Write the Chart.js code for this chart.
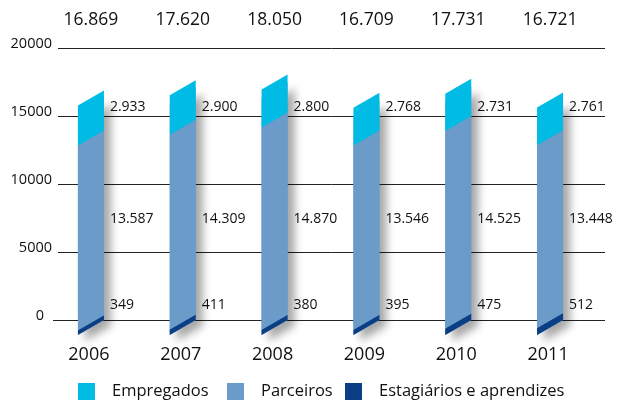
<!DOCTYPE html>
<html>
<head>
<meta charset="utf-8">
<script src="https://cdn.jsdelivr.net/npm/chart.js@4.4.1/dist/chart.umd.min.js"></script>
<style>
  html, body { margin: 0; padding: 0; background: #fff; }
  #wrap { width: 629px; height: 404px; position: relative; }
</style>
</head>
<body>
<div id="wrap"><canvas id="chart"></canvas></div>
<script>
// dados
const years = ['2006', '2007', '2008', '2009', '2010', '2011'];
const empregados = [2933, 2900, 2800, 2768, 2731, 2761];
const parceiros = [13587, 14309, 14870, 13546, 14525, 13448];
const estagiarios = [349, 411, 380, 395, 475, 512];
const totals = [16869, 17620, 18050, 16709, 17731, 16721];
const yTicks = [0, 5000, 10000, 15000, 20000];

const FONT = '"Open Sans", "Noto Sans", sans-serif';
const TEXT = '#111';
const SKEW = 15;

function fmt(n) {
    return String(n).replace(/\B(?=(\d{3})+(?!\d))/g, '.');
}

// desenha as barras inclinadas, grade e rótulos
const slantPlugin = {
    id: 'slant',
    beforeDatasetsDraw(chart) {
        const ctx = chart.ctx;
        const y = chart.scales.y;
        ctx.save();

        // grade + ticks
        ctx.strokeStyle = '#222';
        ctx.lineWidth = 1;
        ctx.fillStyle = TEXT;
        ctx.font = '14.5px ' + FONT;
        ctx.textAlign = 'right';
        ctx.textBaseline = 'middle';
        yTicks.forEach(function(v) {
            const py = Math.round(y.getPixelForValue(v)) + 0.5;
            ctx.beginPath();
            ctx.moveTo(v === 0 ? 53 : 58, py);
            ctx.lineTo(605, py);
            ctx.stroke();
            ctx.fillText(String(v), v === 0 ? 44 : 52, py - 4.5);
        });

        const metas = chart.data.datasets.map((d, i) => chart.getDatasetMeta(i));
        const n = chart.data.labels.length;

        function shape(el, top, base) {
            const l = el.x - el.width / 2, r = el.x + el.width / 2;
            ctx.beginPath();
            ctx.moveTo(r, top);
            ctx.lineTo(r, base);
            ctx.lineTo(l, base + SKEW);
            ctx.lineTo(l, top + SKEW);
            ctx.closePath();
        }

        for (let i = 0; i < n; i++) {
            const bottom = metas[0].data[i];
            const topEl = metas[metas.length - 1].data[i];

            // sombra da barra inteira
            ctx.save();
            ctx.shadowColor = 'rgba(0,0,0,0.35)';
            ctx.shadowBlur = 9;
            ctx.shadowOffsetX = 7;
            ctx.shadowOffsetY = 6;
            ctx.fillStyle = '#6699c9';
            shape(bottom, topEl.y + 8, bottom.base);
            ctx.fill();
            ctx.restore();

            metas.forEach(function(meta, di) {
                const el = meta.data[i];
                ctx.fillStyle = chart.data.datasets[di].backgroundColor;
                shape(el, el.y, el.base);
                ctx.fill();
            });
        }

        // rótulos
        ctx.fillStyle = TEXT;
        ctx.textBaseline = 'middle';
        for (let i = 0; i < n; i++) {
            const el = metas[0].data[i];
            const rx = el.x + el.width / 2 + 6;
            ctx.textAlign = 'left';
            ctx.font = '500 14px ' + FONT;
            ctx.fillText(fmt(empregados[i]), rx, 107);
            ctx.fillText(fmt(parceiros[i]), rx, 219);
            ctx.fillText(fmt(estagiarios[i]), rx, 305);

            ctx.textAlign = 'center';
            ctx.font = '500 17.5px ' + FONT;
            ctx.fillText(fmt(totals[i]), el.x, 20);
            ctx.font = '18px ' + FONT;
            ctx.fillText(years[i], el.x - 2, 355);
        }

        // legenda
        const legend = [
            { label: 'Empregados', color: chart.data.datasets[2].backgroundColor, x: 78 },
            { label: 'Parceiros', color: chart.data.datasets[1].backgroundColor, x: 227 },
            { label: 'Estagiários e aprendizes', color: chart.data.datasets[0].backgroundColor, x: 345 }
        ];
        ctx.font = '16.5px ' + FONT;
        ctx.textAlign = 'left';
        legend.forEach(function(item) {
            ctx.fillStyle = item.color;
            ctx.fillRect(item.x, 383, 17, 17);
            ctx.fillStyle = TEXT;
            ctx.fillText(item.label, item.x + 34, 391);
        });

        ctx.restore();
        return false;
    }
};

new Chart(document.getElementById('chart'), {
    type: 'bar',
    data: {
        labels: years,
        datasets: [
            { label: 'Estagiários e aprendizes', data: estagiarios, backgroundColor: '#0b3f85' },
            { label: 'Parceiros', data: parceiros, backgroundColor: '#6a9bc9' },
            { label: 'Empregados', data: empregados, backgroundColor: '#00bce4' }
        ]
    },
    options: {
        responsive: true,
        maintainAspectRatio: false,
        animation: false,
        layout: { padding: { left: 45, right: 33, top: 48, bottom: 84 } },
        datasets: { bar: { categoryPercentage: 1, barPercentage: 0.283 } },
        scales: {
            x: { display: false, stacked: true },
            y: { display: false, stacked: true, min: 0, max: 20000 }
        },
        plugins: {
            legend: { display: false },
            tooltip: { enabled: false }
        }
    },
    plugins: [slantPlugin]
});
</script>
</body>
</html>
